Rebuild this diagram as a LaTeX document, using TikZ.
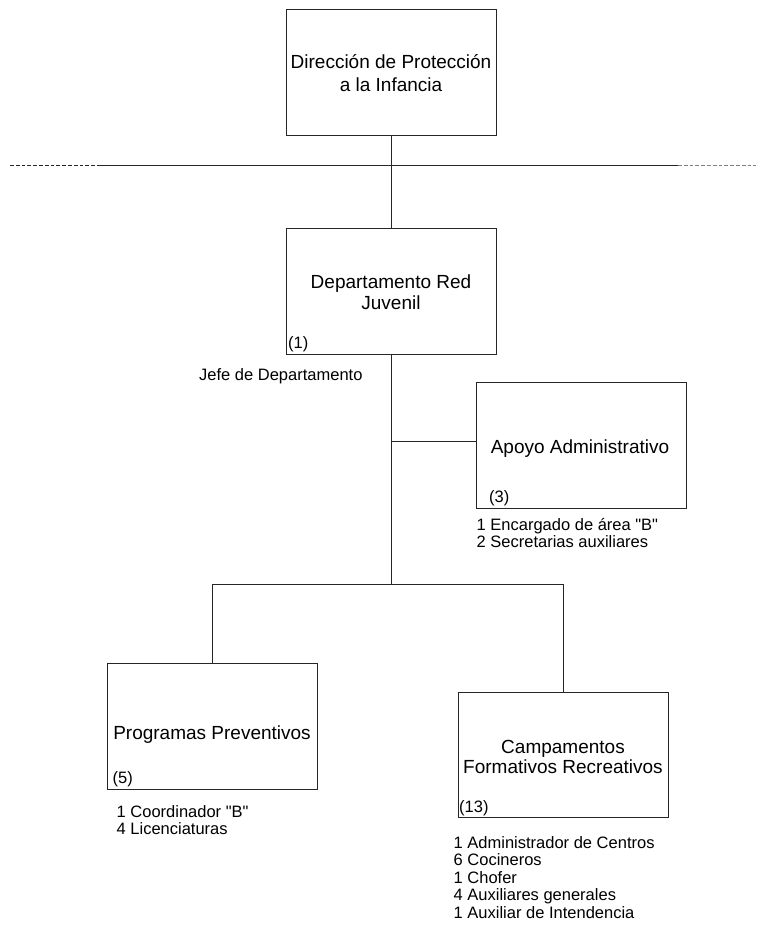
\documentclass[tikz,border=0pt]{standalone}
\usepackage{fontspec}
\setmainfont{Liberation Sans}
\begin{document}
\begin{tikzpicture}[x=1pt,y=-1pt,
  box/.style={draw=black!85, line width=0.9pt, minimum width=210pt, minimum height=126pt, inner sep=0pt, outer sep=0pt},
  bigtxt/.style={inner sep=0pt, font=\fontsize{19}{22}\selectfont, anchor=base},
  smalltxt/.style={inner sep=0pt, font=\fontsize{16.5}{17.4}\selectfont, anchor=base west},
  conn/.style={draw=black!85, line width=0.8pt},
  dashline/.style={line width=0.9pt, dash pattern=on 3.8pt off 2pt}]
\useasboundingbox (0,0) rectangle (756,931);

% boxes
\node[box] (A) at (391,72) {};
\node[box] (B) at (391,291) {};
\node[box] (C) at (581,445) {};
\node[box] (D) at (212,726) {};
\node[box, minimum height=125pt] (E) at (563,754.5) {};

% box texts
\node[bigtxt] (At) at (391,68.5) {\begin{tabular}[t]{@{}c@{}}Dirección de Protección\\[1pt]a la Infancia\end{tabular}};
\node[bigtxt] (Bt) at (391,288) {\begin{tabular}[t]{@{}c@{}}Departamento Red\\[-0.3pt]Juvenil\end{tabular}};
\node[bigtxt] (Ct) at (580,453.5) {Apoyo Administrativo};
\node[bigtxt] (Dt) at (212,739) {Programas Preventivos};
\node[bigtxt] (Et) at (563,753.3) {\begin{tabular}[t]{@{}c@{}}Campamentos\\[-2pt]Formativos Recreativos\end{tabular}};

% counts
\node[smalltxt] (n1) at (288,348) {(1)};
\node[smalltxt] (n3) at (489,502.5) {(3)};
\node[smalltxt] (n5) at (112.5,783) {(5)};
\node[smalltxt] (n13) at (459,812.5) {(13)};

% descriptions
\node[smalltxt] (jefe) at (199,380) {Jefe de Departamento};
\node[smalltxt] (Cl) at (476.5,530) {\begin{tabular}[t]{@{}l@{}}1 Encargado de área \textquotedbl B\textquotedbl\\2 Secretarias auxiliares\end{tabular}};
\node[smalltxt] (Dl) at (116.5,817) {\begin{tabular}[t]{@{}l@{}}1 Coordinador \textquotedbl B\textquotedbl\\4 Licenciaturas\end{tabular}};
\node[smalltxt] (El) at (453.5,848.5) {\begin{tabular}[t]{@{}l@{}}1 Administrador de Centros\\6 Cocineros\\1 Chofer\\4 Auxiliares generales\\1 Auxiliar de Intendencia\end{tabular}};

% horizontal level line
\coordinate (L1) at (10,165);
\coordinate (L2) at (97,165);
\coordinate (R1) at (678,165);
\coordinate (R2) at (756,165);
\draw[dashline, black!85] (L1) -- (L2);
\draw[conn, line width=0.9pt] (L2) -- (R1);
\draw[dashline, black!50] (R1) -- (R2);

% connectors
\coordinate (J) at (391,584);
\coordinate (CJ) at (391,441);
\coordinate (JL) at (212,584);
\coordinate (JR) at (563,584);
\draw[conn] (A.south) -- (B.north);
\draw[conn] (B.south) -- (J);
\draw[conn] (CJ) -- (CJ -| C.west);
\draw[conn] (JL) -- (JR);
\draw[conn] (JL) -- (D.north);
\draw[conn] (JR) -- (E.north);
\end{tikzpicture}
\end{document}
